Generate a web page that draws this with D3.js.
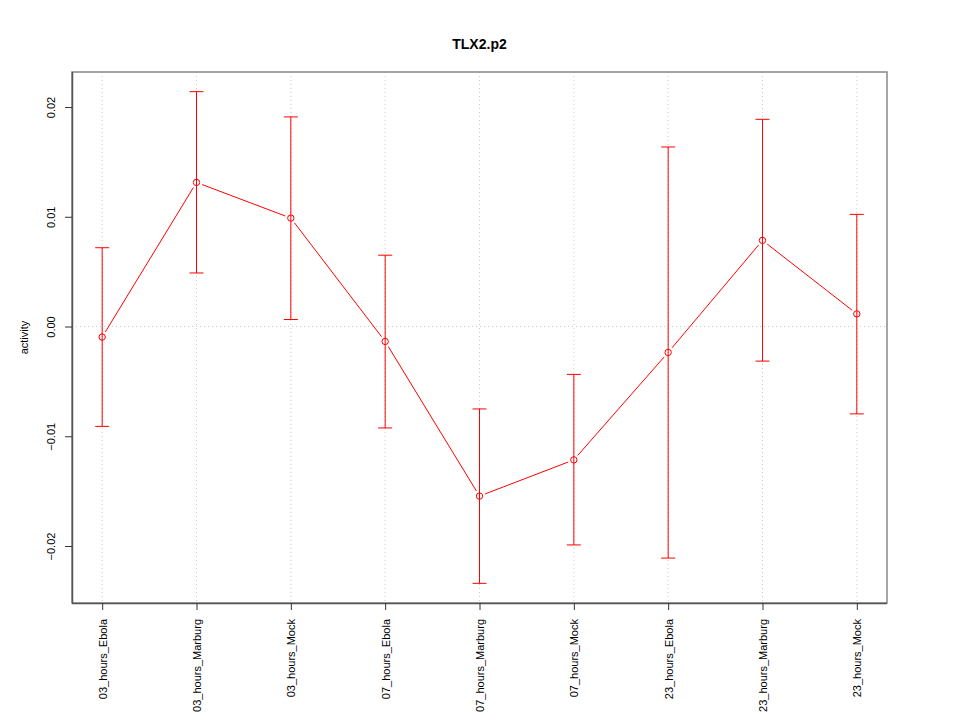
<!DOCTYPE html>
<html>
<head>
<meta charset="utf-8">
<script src="https://cdn.jsdelivr.net/npm/d3@7"></script>
<style>
body{margin:0;background:#fff;}
svg{display:block;font-family:"Liberation Sans",Arial,sans-serif;}
</style>
</head>
<body>
<svg id="chart" width="960" height="720"></svg>
<script>
const categories = ["03_hours_Ebola","03_hours_Marburg","03_hours_Mock","07_hours_Ebola","07_hours_Marburg","07_hours_Mock","23_hours_Ebola","23_hours_Marburg","23_hours_Mock"];
const means = [-0.00096, 0.01313, 0.00988, -0.00136, -0.01545, -0.01215, -0.00236, 0.00785, 0.00115];
const upper = [0.00718, 0.0214, 0.0191, 0.0065, -0.00751, -0.00436, 0.01636, 0.01888, 0.01022];
const lower = [-0.0091, 0.00488, 0.00064, -0.00924, -0.0234, -0.0199, -0.0211, -0.00315, -0.00796];
const yTicks = [-0.02, -0.01, 0.00, 0.01, 0.02];
const title = "TLX2.p2";
const yLabel = "activity";

const svg = d3.select("#chart");
const L = 72, R = 887, T = 72, B = 603;
const n = categories.length;
const x = d3.scaleLinear().domain([1 - 0.04*(n-1), n + 0.04*(n-1)]).range([L, R]);
const yMin = d3.min(lower), yMax = d3.max(upper), ext = (yMax - yMin)*0.04;
const y = d3.scaleLinear().domain([yMin - ext, yMax + ext]).range([B, T]);
const red = "#ff0000";

// grid
svg.append("g").selectAll("line").data(categories).join("line")
  .attr("x1", (d,i)=>x(i+1)).attr("x2", (d,i)=>x(i+1))
  .attr("y1", T).attr("y2", B)
  .attr("stroke", "#cccccc").attr("stroke-dasharray", "1,3");
svg.append("line").attr("x1", L).attr("x2", R).attr("y1", y(0)).attr("y2", y(0))
  .attr("stroke", "#cccccc").attr("stroke-dasharray", "1,3");

// box
svg.append("rect").attr("x", L).attr("y", T).attr("width", R-L).attr("height", B-T)
  .attr("fill", "none").attr("stroke", "#888888").attr("stroke-width", 1.5);

// y axis
const yAxis = d3.axisLeft(y).tickValues(yTicks).tickSize(7).tickFormat(d3.format(".2f"));
const gy = svg.append("g").attr("transform", `translate(${L},0)`).call(yAxis);
gy.select(".domain").attr("d", `M0.5,${T}V${B}`).attr("stroke", "#555").attr("stroke-width", 1.5);
gy.selectAll(".tick line").attr("stroke", "#333");
gy.selectAll(".tick text")
  .attr("transform", "rotate(-90)")
  .attr("x", 0).attr("y", -17).attr("dy", 0)
  .attr("text-anchor", "middle")
  .attr("font-size", 11).attr("fill", "#000")
  .attr("font-family", "'Liberation Sans',Arial,sans-serif");

// x axis
const xAxis = d3.axisBottom(x).tickValues(d3.range(1, n+1)).tickSize(7).tickFormat(i => categories[i-1]);
const gx = svg.append("g").attr("transform", `translate(0,${B})`).call(xAxis);
gx.select(".domain").attr("d", `M${L},0.5H${R}`).attr("stroke", "#555").attr("stroke-width", 1.5);
gx.selectAll(".tick line").attr("stroke", "#333");
gx.selectAll(".tick text")
  .attr("transform", "rotate(-90)")
  .attr("x", -16).attr("y", 0).attr("dy", "0.35em")
  .attr("text-anchor", "end")
  .attr("font-size", 11).attr("fill", "#000")
  .attr("font-family", "'Liberation Sans',Arial,sans-serif");

// error bars
const eb = svg.append("g").attr("stroke", red).attr("stroke-width", 1);
categories.forEach((c,i)=>{
  const cx = x(i+1);
  eb.append("line").attr("x1", cx).attr("x2", cx).attr("y1", y(upper[i])).attr("y2", y(lower[i]));
  eb.append("line").attr("x1", cx-7).attr("x2", cx+7).attr("y1", y(upper[i])).attr("y2", y(upper[i]));
  eb.append("line").attr("x1", cx-7).attr("x2", cx+7).attr("y1", y(lower[i])).attr("y2", y(lower[i]));
});

// line segments with gaps (type "b")
const gap = 6;
const seg = svg.append("g").attr("stroke", red).attr("stroke-width", 1);
for (let i = 0; i < n-1; i++) {
  const x1 = x(i+1), y1 = y(means[i]), x2 = x(i+2), y2 = y(means[i+1]);
  const len = Math.hypot(x2-x1, y2-y1), ux = (x2-x1)/len, uy = (y2-y1)/len;
  seg.append("line").attr("x1", x1+ux*gap).attr("y1", y1+uy*gap)
    .attr("x2", x2-ux*gap).attr("y2", y2-uy*gap);
}

// points
svg.append("g").selectAll("circle").data(means).join("circle")
  .attr("cx", (d,i)=>x(i+1)).attr("cy", d=>y(d)).attr("r", 3.2)
  .attr("fill", "none").attr("stroke", red).attr("stroke-width", 1);

// title
svg.append("text").attr("x", (L+R)/2).attr("y", 49).attr("text-anchor", "middle")
  .attr("font-size", 14).attr("font-weight", "bold").text(title);

// y label
svg.append("text").attr("transform", `translate(28,${(T+B)/2}) rotate(-90)`)
  .attr("text-anchor", "middle").attr("font-size", 11).text(yLabel);
</script>
</body>
</html>
